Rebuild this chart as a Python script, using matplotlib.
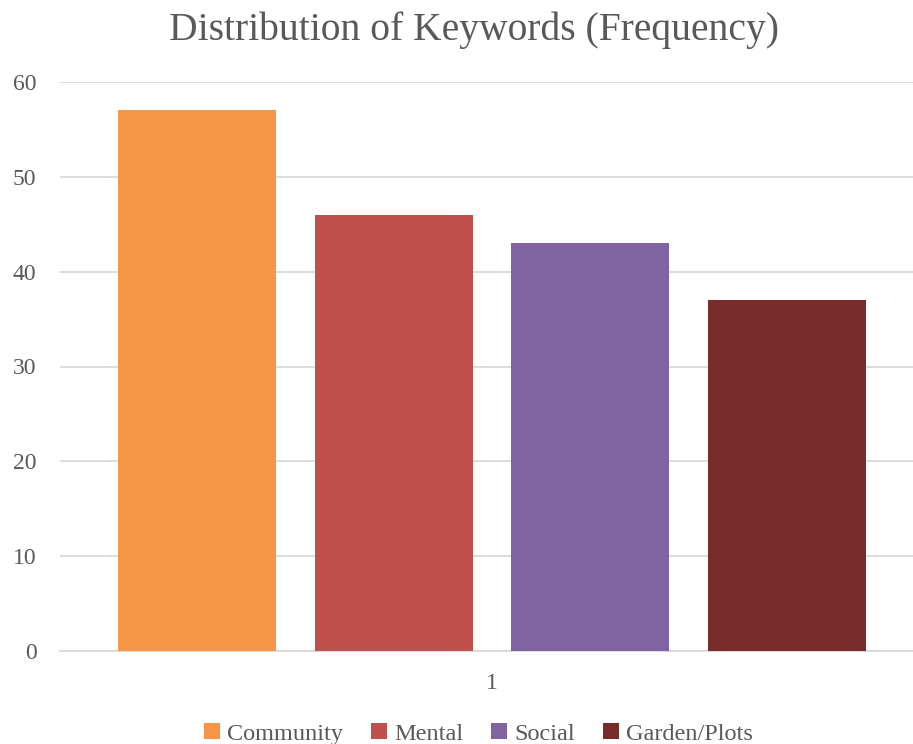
import matplotlib
matplotlib.use("Agg")
import matplotlib.pyplot as plt
from matplotlib.patches import Patch

title = "Distribution of Keywords (Frequency)"
series = ["Community", "Mental", "Social", "Garden/Plots"]
values = [57, 46, 43, 37]
colors = ["#F79646", "#C0504D", "#8064A2", "#772C2A"]
category = ["1"]
yticks = [0, 10, 20, 30, 40, 50, 60]

plt.rcParams['font.family'] = ['Liberation Serif', 'DejaVu Serif']
txt = "#595959"

fig = plt.figure(figsize=(9.13, 7.44), dpi=100)
ax = fig.add_axes([60/913, 93/744, 1 - 60/913, (651-82)/744])

n = len(series)
width = 0.803
offsets = [i - (n - 1) / 2 for i in range(n)]
for off, v, c, s in zip(offsets, values, colors, series):
    ax.bar(off, v, width=width, color=c, label=s, zorder=3)

ax.set_xlim(-2.196, 2.14)
ax.set_ylim(0, 60)
ax.set_yticks(yticks)
ax.set_xticks([0])
ax.set_xticklabels(category)
ax.yaxis.grid(True, color="#D9D9D9", linewidth=1.3, zorder=0)
ax.set_axisbelow(True)
for sp in ["top", "right", "left"]:
    ax.spines[sp].set_visible(False)
ax.spines["bottom"].set_color("#D9D9D9")
ax.spines["bottom"].set_linewidth(1.3)
ax.tick_params(axis="y", length=0, pad=17, labelsize=17, labelcolor=txt)
ax.tick_params(axis="x", length=0, pad=16, labelsize=17, labelcolor=txt)

fig.text(0.5 * (172 + 775) / 913, 1 - 30/744, title, ha="center", va="center",
         fontsize=28.5, color=txt)

handles = [Patch(facecolor=c, edgecolor="none") for c in colors]
leg = fig.legend(handles, series, loc="center", ncol=4,
                 bbox_to_anchor=((207 + 750) / 2 / 913, 1 - 734/744),
                 frameon=False, fontsize=17.5, handlelength=0.65, handleheight=0.65,
                 handletextpad=0.3, columnspacing=1.15, labelcolor=txt)

fig.savefig("out.png", dpi=100)
